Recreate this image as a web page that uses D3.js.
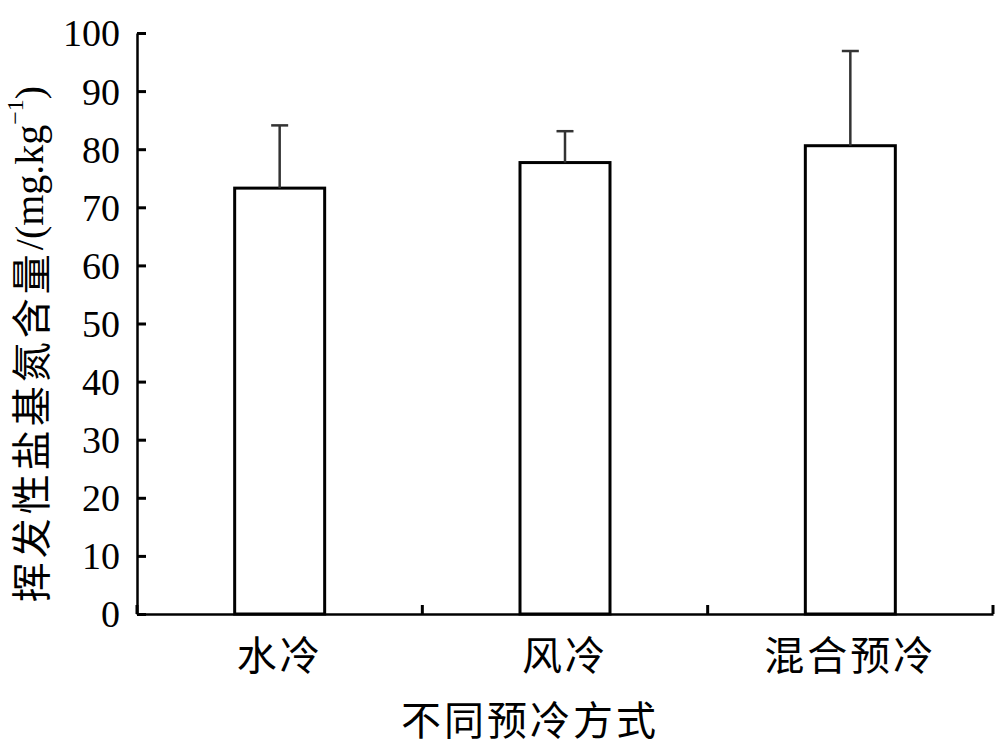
<!DOCTYPE html>
<html>
<head>
<meta charset="utf-8">
<script src="https://cdn.jsdelivr.net/npm/d3@7"></script>
<style>
  html, body { margin: 0; padding: 0; background: #fff; }
  svg { display: block; }
</style>
</head>
<body>
<svg id="chart" width="1000" height="747"></svg>
<script>
// Data
const categories = ["水冷", "风冷", "混合预冷"];
const means = [73.3, 77.7, 80.6];
const errors = [10.8, 5.4, 16.3];
const yTicks = [0, 10, 20, 30, 40, 50, 60, 70, 80, 90, 100];
const xTitle = "不同预冷方式";
const yTitleCN = "挥发性盐基氮含量";

(function () {
const svg = d3.select("#chart");
const mLeft = 137, mRight = 993, mTop = 33, mBottom = 614;
const serif = "'Liberation Serif', 'Times New Roman', serif";
const cjk = "'Noto Sans CJK SC', 'Noto Sans', sans-serif";

const x = d3.scaleBand().domain(categories).range([mLeft, mRight])
  .paddingInner(0.6846).paddingOuter(0.3423);
const y = d3.scaleLinear().domain([0, 100]).range([mBottom, mTop]);

// Bars
svg.append("g").selectAll("rect").data(categories).join("rect")
  .attr("x", d => x(d))
  .attr("y", (d, i) => y(means[i]))
  .attr("width", x.bandwidth())
  .attr("height", (d, i) => y(0) - y(means[i]))
  .attr("fill", "#fff")
  .attr("stroke", "#000")
  .attr("stroke-width", 3);

// Error bars
const eg = svg.append("g").attr("stroke", "#333").attr("stroke-width", 2.5);
categories.forEach((c, i) => {
  const cx = x(c) + x.bandwidth() / 2;
  eg.append("line").attr("x1", cx).attr("x2", cx)
    .attr("y1", y(means[i])).attr("y2", y(means[i] + errors[i]));
  eg.append("line").attr("x1", cx - 8.5).attr("x2", cx + 8.5)
    .attr("y1", y(means[i] + errors[i])).attr("y2", y(means[i] + errors[i]));
});

// Y axis
const yAxis = svg.append("g").attr("transform", `translate(${mLeft},0)`)
  .call(d3.axisLeft(y).tickValues(yTicks).tickSizeInner(-9).tickSizeOuter(0).tickPadding(17));
yAxis.attr("font-family", null).attr("font-size", null);
yAxis.select(".domain").attr("stroke", "#000").attr("stroke-width", 2.5);
yAxis.selectAll(".tick line").attr("stroke", "#000").attr("stroke-width", 3);
yAxis.selectAll(".tick text")
  .style("font-family", serif).style("font-size", "38px").attr("fill", "#000")
  .attr("dy", "0.34em");

// X axis
const xAxis = svg.append("g").attr("transform", `translate(0,${mBottom})`)
  .call(d3.axisBottom(x).tickSize(0).tickPadding(28));
xAxis.attr("font-family", null).attr("font-size", null);
xAxis.select(".domain").attr("stroke", "#000").attr("stroke-width", 2.5);
xAxis.selectAll(".tick text")
  .style("font-family", cjk).style("font-size", "40px").attr("fill", "#000")
  .attr("letter-spacing", "3px");

// Boundary ticks on x axis (pointing up)
const bounds = [0, 1, 2, 3].map(i => mLeft + i * x.step());
svg.append("g").selectAll("line").data(bounds).join("line")
  .attr("x1", d => d).attr("x2", d => d)
  .attr("y1", mBottom).attr("y2", mBottom - 9)
  .attr("stroke", "#000").attr("stroke-width", 3);

// X title
svg.append("text")
  .attr("x", 530).attr("y", 735)
  .attr("text-anchor", "middle")
  .style("font-family", cjk).style("font-size", "40px")
  .attr("letter-spacing", "3px")
  .text(xTitle);

// Y title
const yt = svg.append("text")
  .attr("transform", "translate(29,344) rotate(-90)")
  .attr("text-anchor", "middle")
  .attr("dominant-baseline", "central");
yt.append("tspan").style("font-family", cjk).style("font-size", "40px").attr("letter-spacing", "4px").text(yTitleCN);
yt.append("tspan").style("font-family", serif).style("font-size", "40px").text("/(mg.kg");
yt.append("tspan").style("font-family", serif).style("font-size", "24px").attr("dy", "-14").text("−1");
yt.append("tspan").style("font-family", serif).style("font-size", "40px").attr("dy", "14").text(")");
})();
</script>
</body>
</html>
